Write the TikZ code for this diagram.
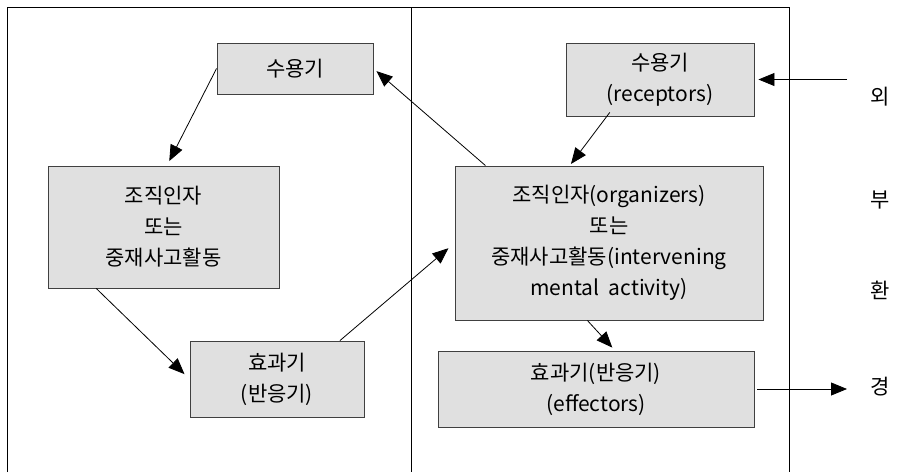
\documentclass[tikz,border=0pt]{standalone}
\usepackage{fontspec}
\setmainfont{Noto Sans CJK KR}
\usetikzlibrary{arrows.meta,calc}
\begin{document}
\begin{tikzpicture}[x=1pt,y=-1pt,
  box/.style={draw=black!75,line width=0.9pt,fill=black!12,inner sep=0pt,
    align=center,font=\fontsize{21}{31}\selectfont},
  flow/.style={draw=black,line width=0.8pt,-{Triangle[length=16pt,width=13pt]}},
  sidetext/.style={font=\fontsize{21}{24}\selectfont}]
\useasboundingbox (0,0) rectangle (900,472);
% frame of the two panels (open at the bottom)
\draw[line width=0.8pt] (7,472) -- (7,7) -- (789,7) -- (789,472);
\draw[line width=0.8pt] (411.5,7) -- (411.5,472);
% left panel
\node[box,minimum width=156,minimum height=51] (lrecv) at (295,68.5) {수용기};
\node[box,minimum width=231,minimum height=122] (lorg) at (163.5,227)
  {조직인자\\또는\\중재사고활동};
\node[box,minimum width=174,minimum height=76] (leff) at (277,379)
  {효과기\\(반응기)};
% right panel
\node[box,minimum width=188,minimum height=73] (rrecv) at (660,79.5)
  {수용기\\(receptors)};
\node[box,minimum width=308,minimum height=154] (rorg) at (609,243)
  {조직인자(organizers)\\또는\\중재사고활동(intervening\\mental\ \ activity)};
\node[box,minimum width=316,minimum height=76] (reff) at (596,389)
  {효과기(반응기)\\(effectors)};
% environment label
\node[sidetext] (e1) at (880,97) {외};
\node[sidetext] (e2) at (880,200) {부};
\node[sidetext] (e3) at (880,290) {환};
\node[sidetext] (e4) at (880,387) {경};
\coordinate (inp) at (847,79.5);
\coordinate (outp) at (847,389);
% connectors
\draw[flow,shorten >=5pt] (lrecv.west) -- ($(lorg.north west)!0.515!(lorg.north east)$);
\draw[flow,shorten >=4pt] ($(rorg.north west)!0.1!(rorg.north east)$) -- (lrecv.east);
\draw[flow,shorten >=7pt] ($(lorg.south west)!0.21!(lorg.south east)$) -- (leff.west);
\draw[flow,shorten >=8pt] ($(leff.north west)!0.86!(leff.north east)$) -- (rorg.west);
\draw[flow,shorten >=2pt] ($(rrecv.south west)!0.234!(rrecv.south east)+(0,-4)$) -- ($(rorg.north west)!0.373!(rorg.north east)$);
\draw[flow,shorten >=4pt] ($(rorg.south west)!0.43!(rorg.south east)$) -- ($(reff.north west)!0.56!(reff.north east)$);
\draw[flow,shorten >=4pt] (inp) -- (rrecv.east);
\draw[flow,shorten <=3pt] (reff.east) -- (outp);
\end{tikzpicture}
\end{document}
